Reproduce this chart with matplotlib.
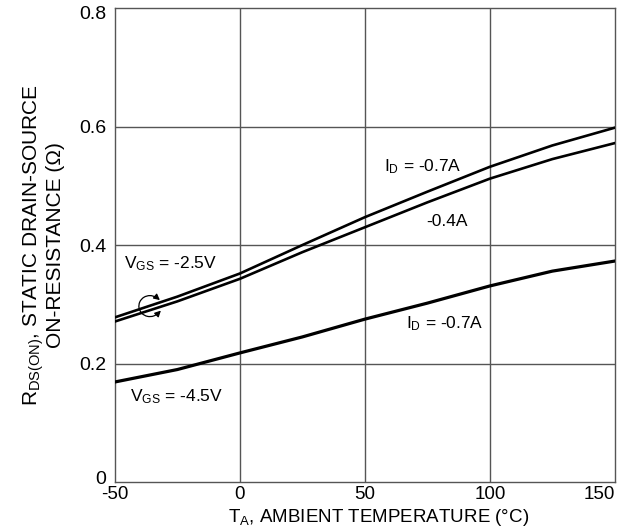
import matplotlib
matplotlib.use("Agg")
import matplotlib.pyplot as plt
from matplotlib.patches import Arc
from matplotlib.transforms import ScaledTranslation

plt.rcParams["font.family"] = ["Liberation Sans", "DejaVu Sans"]
plt.rcParams["mathtext.fontset"] = "custom"
plt.rcParams["mathtext.rm"] = "Liberation Sans"
plt.rcParams["mathtext.default"] = "regular"
plt.rcParams["axes.unicode_minus"] = False

# ambient temperature (C)
temp = [-50, -25, 0, 25, 50, 75, 100, 125, 150]
# on-resistance (ohm)
r_25_07 = [0.278, 0.313, 0.352, 0.400, 0.447, 0.490, 0.532, 0.568, 0.598]
r_25_04 = [0.271, 0.305, 0.343, 0.388, 0.430, 0.472, 0.512, 0.545, 0.572]
r_45_07 = [0.169, 0.190, 0.218, 0.245, 0.275, 0.302, 0.331, 0.356, 0.373]

xticks = [-50, 0, 50, 100, 150]
yticks = [0, 0.2, 0.4, 0.6, 0.8]
ylabels = ["0", "0.2", "0.4", "0.6", "0.8"]

fig = plt.figure(figsize=(6.21, 5.31), dpi=100)
ax = fig.add_axes([0.185, 0.092, 0.805, 0.893])

for x in xticks[1:-1]:
    ax.axvline(x, color="#555555", lw=1.0, zorder=1)
for y in yticks[1:-1]:
    ax.axhline(y, color="#555555", lw=1.0, zorder=1)

ax.plot(temp, r_25_07, color="black", lw=1.9, zorder=3)
ax.plot(temp, r_25_04, color="black", lw=1.9, zorder=3)
ax.plot(temp, r_45_07, color="black", lw=2.3, zorder=3)

ax.set_xlim(-50, 150)
ax.set_ylim(0, 0.8)
ax.set_xticks(xticks)
ax.set_yticks(yticks)
ax.set_yticklabels(ylabels)
ax.tick_params(length=0, labelsize=14, colors="black")
ax.tick_params(axis="x", labelsize=13.5, pad=3)
ax.tick_params(axis="y", pad=6)
ax.get_xticklabels()[-1].set_ha("right")
ax.get_xticklabels()[-1].set_x(151)
# end labels nudged inside like the original
lab0 = ax.get_yticklabels()[0]
lab0.set_transform(lab0.get_transform() + ScaledTranslation(0, 0.05, fig.dpi_scale_trans))
lab8 = ax.get_yticklabels()[-1]
lab8.set_transform(lab8.get_transform() + ScaledTranslation(0, -0.05, fig.dpi_scale_trans))
for s in ax.spines.values():
    s.set_color("#555555")
    s.set_linewidth(1.0)

ax.set_xlabel(r"T$_A$, AMBIENT TEMPERATURE (°C)", fontsize=13.5)
ax.xaxis.set_label_coords(0.528, -0.052)
ax.set_ylabel("R$_{DS(ON)}$, STATIC DRAIN-SOURCE\nON-RESISTANCE (Ω)",
              fontsize=15, labelpad=10, linespacing=1.0)

ax.text(-46.5, 0.368, "V$_{GS}$ = -2.5V", fontsize=12.5, va="center")
ax.text(73, 0.532, "I$_D$ = -0.7A", fontsize=12.5, va="center", ha="center")
ax.text(83, 0.44, "-0.4A", fontsize=12.5, va="center", ha="center")
ax.text(82, 0.268, "I$_D$ = -0.7A", fontsize=12.5, va="center", ha="center")
ax.text(-44, 0.145, "V$_{GS}$ = -4.5V", fontsize=12.5, va="center")

# loop marker around the -2.5V pair
loop = fig.dpi_scale_trans + ScaledTranslation(-36, 0.297, ax.transData)
ax.add_patch(Arc((0, 0), 0.22, 0.21, theta1=55, theta2=325, transform=loop,
                 color="black", lw=0.9, zorder=4))
ax.annotate("", xy=(0.1, 0.06), xytext=(0.07, 0.085), xycoords=loop, textcoords=loop,
            arrowprops=dict(arrowstyle="-|>,head_length=0.35,head_width=0.18",
                            color="black", lw=0.9, shrinkA=0, shrinkB=0))
ax.annotate("", xy=(0.11, -0.045), xytext=(0.085, -0.07), xycoords=loop, textcoords=loop,
            arrowprops=dict(arrowstyle="-|>,head_length=0.35,head_width=0.18",
                            color="black", lw=0.9, shrinkA=0, shrinkB=0))

fig.savefig("out.png", dpi=100)
